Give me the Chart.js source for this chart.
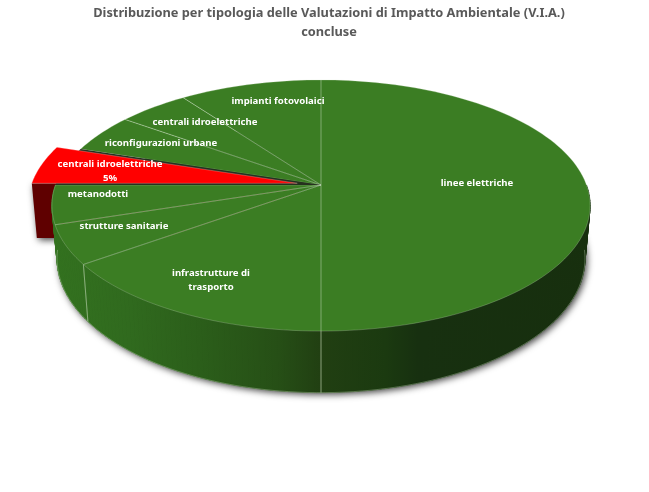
<!DOCTYPE html>
<html><head><meta charset="utf-8">
<style>html,body{margin:0;padding:0;background:#fff}canvas{display:block}</style>
<script src="https://cdn.jsdelivr.net/npm/chart.js@4"></script>
</head><body><canvas id="c" width="649" height="492"></canvas>
<script>
const titleLines = ['Distribuzione per tipologia delle Valutazioni di Impatto Ambientale (V.I.A.)', 'concluse'];
const categories = ['linee elettriche', 'infrastrutture di trasporto', 'strutture sanitarie', 'metanodotti', 'centrali idroelettriche', 'riconfigurazioni urbane', 'centrali idroelettriche', 'impianti fotovolaici'];
const shares = [50, 15, 5, 5, 5, 5, 5, 10];
const explode = [0, 0, 0, 0, 24, 0, 0, 0];
const topColours = ['#3b7d23', '#3b7d23', '#3b7d23', '#3b7d23', '#ff0000', '#3b7d23', '#3b7d23', '#3b7d23'];
const percentShown = [false, false, false, false, true, false, false, false];
const labelWraps = [0, 2, 0, 0, 0, 0, 0, 0];
const labelSpots = [[477, 183], [211, 273], [124, 226], [98, 194], [110, 164], [161, 143], [205, 122], [278, 101]];

// Perspective of the pie disc, and of its lower face
const view = {cx: 321, apexY: 185, R: 265.5, S: 122.2, k: 0.1634, ellY: 205, lowY: 258, lowX: 0.981, lowS: 1.068, pulledDrop: 3};
const wallStops = [[0, '#33721f'], [0.145, '#306a1e'], [0.275, '#2b5e1a'], [0.42, '#264f16'], [0.5, '#213f12'], [0.62, '#1b3a10'], [0.68, '#173010'], [1, '#172f0e']];

function project(a, r, o) {
  const u = Math.cos(a) * r, v = -Math.sin(a) * r, w = 1 + view.k * v;
  return [view.cx + view.R * u / w + (o ? o[0] : 0), view.apexY - view.S * v / w + (o ? o[1] : 0)];
}
function lower(p, o) {
  const ox = o ? o[0] : 0, oy = o ? o[1] : 0, drop = o ? view.pulledDrop : 0;
  return [view.cx + ox + (p[0] - ox - view.cx) * view.lowX, view.lowY + oy + drop + (p[1] - oy - view.ellY) * view.lowS];
}
function sliceShift(el) {
  const off = el.options.offset || 0;
  if (!off) return null;
  const mid = (el.startAngle + el.endAngle) / 2;
  return [off * Math.cos(mid), off * Math.sin(mid) * view.S / view.R];
}
function topPath(ctx, el, o) {
  const steps = Math.max(8, Math.ceil((el.endAngle - el.startAngle) / 0.03));
  ctx.beginPath();
  const apex = project(0, 0, o);
  ctx.moveTo(apex[0], apex[1]);
  for (let i = 0; i <= steps; i++) {
    const p = project(el.startAngle + (el.endAngle - el.startAngle) * i / steps, 1, o);
    ctx.lineTo(p[0], p[1]);
  }
  ctx.closePath();
}
function rimPath(ctx, from, to, face, o) {
  const steps = Math.max(4, Math.ceil((to - from) / 0.03));
  ctx.beginPath();
  for (let i = 0; i <= steps; i++) {
    let p = project(from + (to - from) * i / steps, 1, o);
    if (face) p = lower(p, o);
    i ? ctx.lineTo(p[0], p[1]) : ctx.moveTo(p[0], p[1]);
  }
}
function drawWall(ctx, el, fill, o) {
  const a0 = Math.max(el.startAngle, 0), a1 = Math.min(el.endAngle, Math.PI);
  if (a1 <= a0) return;
  const steps = Math.ceil((a1 - a0) / 0.02);
  ctx.fillStyle = fill; ctx.strokeStyle = fill; ctx.lineWidth = 0.8;
  for (let i = 0; i < steps; i++) {
    const p = project(a0 + (a1 - a0) * i / steps, 1, o), q = project(a0 + (a1 - a0) * (i + 1) / steps, 1, o);
    const pl = lower(p, o), ql = lower(q, o);
    ctx.beginPath(); ctx.moveTo(p[0], p[1]); ctx.lineTo(q[0], q[1]); ctx.lineTo(ql[0], ql[1]); ctx.lineTo(pl[0], pl[1]); ctx.closePath();
    ctx.fill(); ctx.stroke();
  }
}
const pie3d = {
  id: 'pie3d',
  beforeDatasetsDraw(chart) {
    const ctx = chart.ctx, arcs = chart.getDatasetMeta(0).data;
    ctx.save();
    // soft shadow under the pie
    ctx.save();
    ctx.shadowColor = 'rgba(0,0,0,0.75)'; ctx.shadowBlur = 7; ctx.shadowOffsetX = 2; ctx.shadowOffsetY = 2;
    ctx.fillStyle = '#183510';
    rimPath(ctx, 0, Math.PI * 2, true); ctx.closePath(); ctx.fill();
    arcs.forEach(el => {
      const o = sliceShift(el); if (!o) return;
      const a = project(el.endAngle > Math.PI ? Math.PI : el.startAngle, 1, o);
      const ap = project(0, 0, o);
      ctx.fillStyle = '#5f0000';
      ctx.beginPath();
      const b = lower(a, o), c = lower(ap, o);
      ctx.moveTo(a[0], a[1]); ctx.lineTo(ap[0], ap[1]); ctx.lineTo(c[0], c[1]); ctx.lineTo(b[0], b[1]); ctx.closePath(); ctx.fill();
    });
    ctx.restore();
    // green walls
    const grad = ctx.createLinearGradient(52, 0, 590, 0);
    wallStops.forEach(s => grad.addColorStop(s[0], s[1]));
    arcs.forEach(el => { if (!sliceShift(el)) drawWall(ctx, el, grad); });
    // wall edges
    ctx.lineWidth = 0.7; ctx.strokeStyle = 'rgba(200,220,190,0.5)';
    rimPath(ctx, 0.1, Math.PI - 0.1, true); ctx.stroke();
    arcs.forEach(el => {
      if (sliceShift(el)) return;
      [el.startAngle, el.endAngle].forEach(a => {
        const n = Math.atan2(Math.sin(a), Math.cos(a));
        if (n > 0.02 && n < Math.PI - 0.5) {
          const p = project(n, 1), l = lower(p);
          ctx.beginPath(); ctx.moveTo(p[0], p[1]); ctx.lineTo(l[0], l[1]); ctx.stroke();
        }
      });
    });
    // flat tops of the seated slices
    arcs.forEach(el => {
      if (sliceShift(el)) return;
      topPath(ctx, el); ctx.fillStyle = el.options.backgroundColor; ctx.fill();
    });
    arcs.forEach(el => {
      if (sliceShift(el)) return;
      topPath(ctx, el); ctx.strokeStyle = 'rgba(215,230,205,0.42)'; ctx.lineWidth = 0.6; ctx.stroke();
    });
    // dark gap left by the pulled slice, then the slice itself
    arcs.forEach(el => {
      const o = sliceShift(el); if (!o) return;
      topPath(ctx, el); ctx.fillStyle = '#26301f'; ctx.fill();
      topPath(ctx, el, o); ctx.fillStyle = el.options.backgroundColor; ctx.fill();
      ctx.strokeStyle = 'rgba(255,220,220,0.45)'; ctx.lineWidth = 0.6; ctx.stroke();
    });
    // labels
    ctx.fillStyle = '#ffffff'; ctx.textAlign = 'center'; ctx.textBaseline = 'middle';
    ctx.font = 'bold 9.6px "Noto Sans"';
    const total = shares.reduce((s, v) => s + v, 0);
    categories.forEach((name, i) => {
      const [x, y] = labelSpots[i];
      if (labelWraps[i]) {
        const cut = name.lastIndexOf(' ');
        ctx.fillText(name.slice(0, cut), x, y);
        ctx.fillText(name.slice(cut + 1), x, y + 14);
      } else if (percentShown[i]) {
        ctx.fillText(name, x, y);
        ctx.fillText(Math.round(shares[i] / total * 100) + '%', x, y + 14);
      } else ctx.fillText(name, x, y);
    });
    ctx.restore();
    return false;
  }
};
new Chart(document.getElementById('c'), {
  type: 'pie',
  data: {labels: categories, datasets: [{data: shares, backgroundColor: topColours, offset: explode, borderWidth: 0}]},
  options: {
    responsive: false, animation: false, devicePixelRatio: 1,
    layout: {padding: {left: 9}},
    plugins: {
      legend: {display: false}, tooltip: {enabled: false},
      title: {display: true, text: titleLines, color: '#595959', padding: {top: 4.5, bottom: 4},
        font: {family: '"Noto Sans"', size: 12.8, weight: 'bold', lineHeight: 1.45}}
    }
  },
  plugins: [pie3d]
});
</script></body></html>
